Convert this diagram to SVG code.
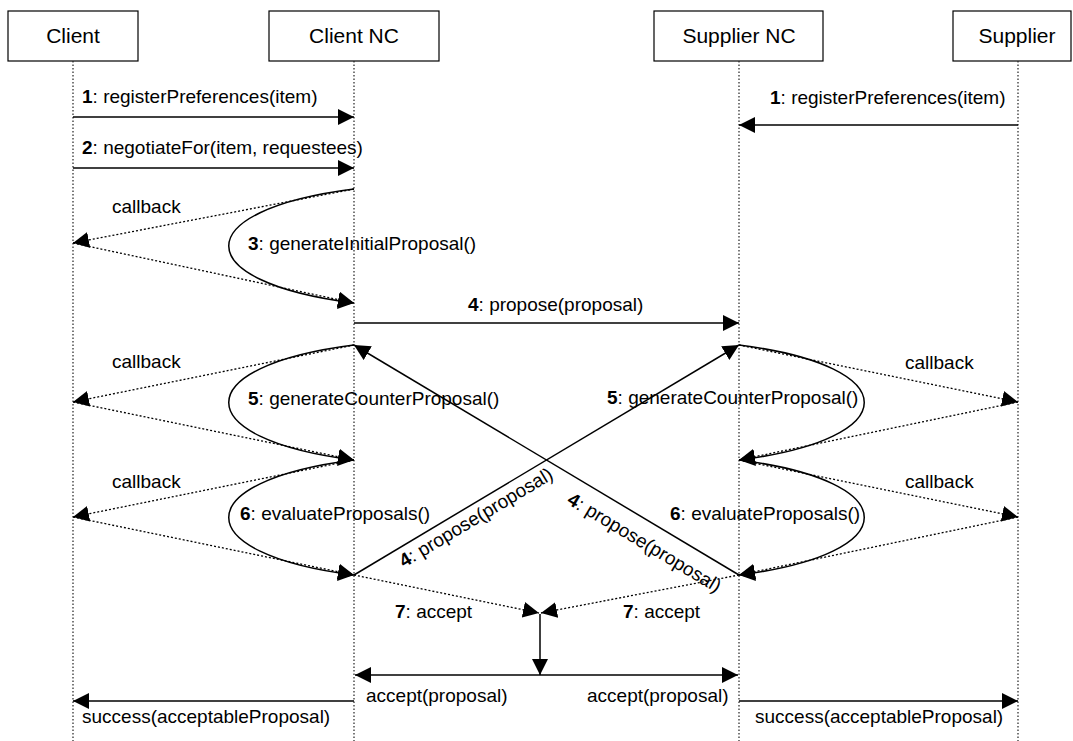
<svg xmlns="http://www.w3.org/2000/svg" width="1073" height="741" viewBox="0 0 1073 741">
  <style>
    .box { fill: #fff; stroke: #000; stroke-width: 1.2; }
    .life { stroke: #222; stroke-width: 1.2; stroke-dasharray: 1.5 2; fill: none; }
    .title { font-family: "Liberation Sans", Arial, sans-serif; font-size: 21px; fill: #000; text-anchor: middle; }
    .lbl { font-family: "Liberation Sans", Arial, sans-serif; font-size: 19px; fill: #000; }
    .num { font-weight: bold; }
    .msg { stroke: #000; stroke-width: 1.5; fill: none; marker-end: url(#arrow); }
    .cb { stroke: #000; stroke-width: 1.3; stroke-dasharray: 2 2; fill: none; marker-end: url(#arrow); }
  </style>
  <defs>
    <marker id="arrow" markerUnits="userSpaceOnUse" markerWidth="17" markerHeight="17" refX="16" refY="8" orient="auto">
      <path d="M0,0 L16,8 L0,16 z" fill="#000"/>
    </marker>
  </defs>
  <rect width="1073" height="741" fill="#fff"/>

  <!-- participants with their lifelines -->
  <g id="client">
    <rect class="box" x="8" y="11" width="130" height="50"/>
    <text class="title" x="73" y="43">Client</text>
    <line class="life" x1="73" y1="61" x2="73" y2="741"/>
  </g>
  <g id="client-nc">
    <rect class="box" x="269" y="11" width="170" height="50"/>
    <text class="title" x="354" y="43">Client NC</text>
    <line class="life" x1="354" y1="61" x2="354" y2="741"/>
  </g>
  <g id="supplier-nc">
    <rect class="box" x="654" y="11" width="169" height="50"/>
    <text class="title" x="739" y="43">Supplier NC</text>
    <line class="life" x1="739" y1="61" x2="739" y2="741"/>
  </g>
  <g id="supplier">
    <rect class="box" x="953" y="11" width="118" height="50"/>
    <text class="title" x="1017" y="43">Supplier</text>
    <line class="life" x1="1018" y1="61" x2="1018" y2="741"/>
  </g>

  <!-- messages -->
  <g id="connectors">
    <line class="msg" x1="73" y1="117" x2="354" y2="117"/>
    <line class="msg" x1="73" y1="168" x2="354" y2="168"/>
    <line class="msg" x1="1018" y1="125" x2="739" y2="125"/>

    <!-- 3: self call on Client NC with callbacks -->
    <path class="msg" d="M354,189 C187,210 187,282 354,303"/>
    <line class="cb" x1="354" y1="189" x2="73" y2="243"/>
    <line class="cb" x1="73" y1="243" x2="354" y2="303"/>

    <line class="msg" x1="354" y1="323" x2="739" y2="323"/>

    <!-- 5 and 6 on Client NC -->
    <path class="msg" d="M354,345 C187,366 187,439 354,460"/>
    <line class="cb" x1="354" y1="345" x2="73" y2="402"/>
    <line class="cb" x1="73" y1="402" x2="354" y2="460"/>
    <path class="msg" d="M354,460 C187,481 187,554 354,575"/>
    <line class="cb" x1="354" y1="460" x2="73" y2="517"/>
    <line class="cb" x1="73" y1="517" x2="354" y2="575"/>

    <!-- 5 and 6 on Supplier NC -->
    <path class="msg" d="M739,345 C906,366 906,439 739,460"/>
    <line class="cb" x1="739" y1="345" x2="1018" y2="402"/>
    <line class="cb" x1="1018" y1="402" x2="739" y2="460"/>
    <path class="msg" d="M739,460 C906,481 906,554 739,575"/>
    <line class="cb" x1="739" y1="460" x2="1018" y2="517"/>
    <line class="cb" x1="1018" y1="517" x2="739" y2="575"/>

    <!-- crossing proposals -->
    <line class="msg" x1="354" y1="575" x2="739" y2="345"/>
    <line class="msg" x1="739" y1="575" x2="354" y2="345"/>

    <!-- 7: accept -->
    <line class="cb" x1="354" y1="575" x2="539" y2="613"/>
    <line class="cb" x1="739" y1="575" x2="541" y2="613"/>
    <line class="msg" x1="540" y1="614" x2="540" y2="675" stroke="#333"/>
    <line class="msg" x1="540" y1="675" x2="355" y2="675"/>
    <line class="msg" x1="540" y1="675" x2="738" y2="675"/>

    <line class="msg" x1="354" y1="701" x2="73" y2="701"/>
    <line class="msg" x1="739" y1="701" x2="1018" y2="701"/>
  </g>

  <!-- message labels -->
  <g id="labels">
    <text class="lbl" x="82" y="103"><tspan class="num">1</tspan>: registerPreferences(item)</text>
    <text class="lbl" x="82" y="154"><tspan class="num">2</tspan>: negotiateFor(item, requestees)</text>
    <text class="lbl" x="770" y="104"><tspan class="num">1</tspan>: registerPreferences(item)</text>
    <text class="lbl" x="112" y="213">callback</text>
    <text class="lbl" x="248" y="250"><tspan class="num">3</tspan>: generateInitialProposal()</text>
    <text class="lbl" x="468" y="311"><tspan class="num">4</tspan>: propose(proposal)</text>
    <text class="lbl" x="112" y="368">callback</text>
    <text class="lbl" x="248" y="405"><tspan class="num">5</tspan>: generateCounterProposal()</text>
    <text class="lbl" x="112" y="488">callback</text>
    <text class="lbl" x="240" y="520"><tspan class="num">6</tspan>: evaluateProposals()</text>
    <text class="lbl" x="905" y="369">callback</text>
    <text class="lbl" x="607" y="404"><tspan class="num">5</tspan>: generateCounterProposal()</text>
    <text class="lbl" x="905" y="488">callback</text>
    <text class="lbl" x="670" y="520"><tspan class="num">6</tspan>: evaluateProposals()</text>
    <text class="lbl" transform="translate(404,568) rotate(-30.9)"><tspan class="num">4</tspan>: propose(proposal)</text>
    <text class="lbl" transform="translate(566,503) rotate(30.9)"><tspan class="num">4</tspan>: propose(proposal)</text>
    <text class="lbl" x="395" y="618"><tspan class="num">7</tspan>: accept</text>
    <text class="lbl" x="623" y="618"><tspan class="num">7</tspan>: accept</text>
    <text class="lbl" x="366" y="702">accept(proposal)</text>
    <text class="lbl" x="587" y="702">accept(proposal)</text>
    <text class="lbl" x="82" y="723">success(acceptableProposal)</text>
    <text class="lbl" x="755" y="723">success(acceptableProposal)</text>
  </g>
</svg>
